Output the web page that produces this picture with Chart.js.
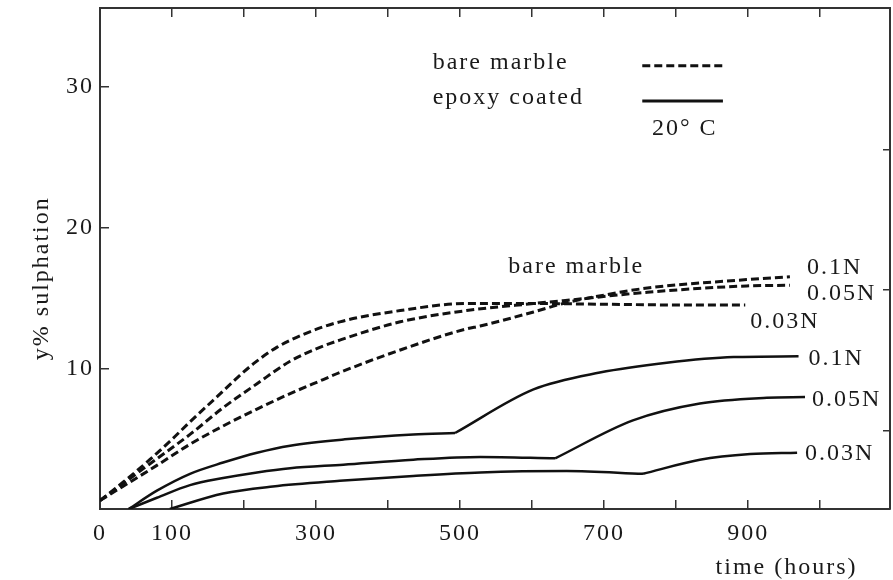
<!DOCTYPE html>
<html>
<head>
<meta charset="utf-8">
<script src="https://cdn.jsdelivr.net/npm/chart.js@4.4.0/dist/chart.umd.min.js"></script>
<style>
  html, body { margin: 0; padding: 0; background: #fff; }
</style>
</head>
<body>
<canvas id="sulphChart" width="893" height="580"></canvas>
<script>
// bare marble curves: [hours, y% sulphation]
const bare01 = [[0,0.6],[79,3.1],[125,4.6],[171,5.9],[218,7.1],[264,8.2],[310,9.2],[333,9.7],[417,11.3],[509,12.8],[528,13.0],[602,14.0],[643,14.6],[700,15.2],[760,15.7],[898,16.3],[958,16.5]];
const bare005 = [[0,0.6],[69,3.2],[125,5.3],[171,7.2],[218,8.9],[264,10.5],[301,11.4],[333,12.0],[417,13.3],[509,14.1],[602,14.6],[643,14.8],[760,15.4],[898,15.85],[958,15.9]];
const bare003 = [[0,0.6],[32,1.9],[69,3.5],[101,5.0],[125,6.2],[163,8.0],[190,9.3],[215,10.4],[246,11.5],[282,12.4],[333,13.3],[417,14.1],[509,14.6],[600,14.6],[700,14.55],[800,14.5],[896,14.5]];

// epoxy coated curves, split at the kink (before / after)
const epoxy01a = [[40,0],[79,1.3],[125,2.5],[171,3.3],[218,4.0],[264,4.5],[340,4.95],[435,5.3],[493,5.4]];
const epoxy01b = [[493,5.4],[602,8.5],[694,9.7],[787,10.4],[880,10.8],[970,10.85]];
const epoxy005a = [[40,0],[79,0.8],[125,1.7],[171,2.2],[218,2.6],[264,2.9],[338,3.15],[435,3.5],[528,3.7],[632,3.6]];
const epoxy005b = [[632,3.6],[740,6.3],[833,7.5],[926,7.9],[979,7.95]];
const epoxy003a = [[97,0],[171,1.1],[240,1.6],[333,2.0],[435,2.35],[528,2.6],[648,2.7],[754,2.5]];
const epoxy003b = [[754,2.5],[833,3.5],[903,3.9],[968,4.0]];

// ticks
const xTickValues = [0,100,200,300,400,500,600,700,800,900,1000];
const xTickLabels = [0,100,300,500,700,900];
const yTickValues = [10,20,30];
const yRightTicks = [5,15,25];

const serif = '"Liberation Serif", "Times New Roman", serif';
const ink = '#1a1a1a';
const DASH = [8, 4];
const SPACING = '2px';

// text next to curve ends (pixel offsets from last point)
const endLabels = [
    { data: bare01, text: '0.1N', dx: 17, dy: -9 },
    { data: bare005, text: '0.05N', dx: 17, dy: 8 },
    { data: bare003, text: '0.03N', dx: 5, dy: 17 },
    { data: epoxy01b, text: '0.1N', dx: 10, dy: 2 },
    { data: epoxy005b, text: '0.05N', dx: 7, dy: 3 },
    { data: epoxy003b, text: '0.03N', dx: 8, dy: 1 }
];

function line(data, dashed) {
    return {
        data: data,
        borderColor: '#111',
        borderWidth: dashed ? 3 : 2.5,
        borderDash: dashed ? DASH : [],
        pointRadius: 0,
        fill: false,
        cubicInterpolationMode: 'monotone'
    };
}

const annotate = {
    id: 'annotate',
    beforeDraw(chart) {
        chart.ctx.letterSpacing = SPACING;
    },
    afterDatasetsDraw(chart) {
        const ctx = chart.ctx;
        const x = chart.scales.x, y = chart.scales.y;
        ctx.save();
        ctx.letterSpacing = SPACING;
        ctx.font = '24px ' + serif;
        ctx.fillStyle = ink;
        ctx.textBaseline = 'middle';
        ctx.textAlign = 'left';

        endLabels.forEach(l => {
            const last = l.data[l.data.length - 1];
            ctx.fillText(l.text, x.getPixelForValue(last[0]) + l.dx, y.getPixelForValue(last[1]) + l.dy);
        });

        ctx.fillText('bare marble', x.getPixelForValue(567), y.getPixelForValue(17.2));

        // key
        ctx.fillText('bare marble', x.getPixelForValue(462), y.getPixelForValue(31.7));
        ctx.fillText('epoxy coated', x.getPixelForValue(462), y.getPixelForValue(29.2));
        ctx.textAlign = 'center';
        ctx.fillText('20\u00b0 C', x.getPixelForValue(812), y.getPixelForValue(27.0));

        ctx.strokeStyle = '#111';
        ctx.lineWidth = 3;
        ctx.setLineDash(DASH);
        ctx.beginPath();
        ctx.moveTo(x.getPixelForValue(753), y.getPixelForValue(31.5));
        ctx.lineTo(x.getPixelForValue(865), y.getPixelForValue(31.5));
        ctx.stroke();
        ctx.setLineDash([]);
        ctx.beginPath();
        ctx.moveTo(x.getPixelForValue(753), y.getPixelForValue(29.0));
        ctx.lineTo(x.getPixelForValue(865), y.getPixelForValue(29.0));
        ctx.stroke();

        // axis titles
        ctx.textAlign = 'right';
        ctx.fillText('time (hours)', x.getPixelForValue(1052), chart.height - 12);
        ctx.translate(chart.chartArea.left - 58, y.getPixelForValue(16.4));
        ctx.rotate(-Math.PI / 2);
        ctx.textAlign = 'center';
        ctx.fillText('y% sulphation', 0, 0);
        ctx.restore();
    }
};

function noPad(s) {
    s.paddingTop = 0; s.paddingBottom = 0; s.paddingLeft = 0; s.paddingRight = 0;
}

function frame(extra) {
    return Object.assign({
        border: { display: true, color: '#333', width: 2 },
        grid: { drawOnChartArea: false, drawTicks: true, tickLength: -9, color: '#333', lineWidth: 1.5 },
        ticks: { color: ink, font: { family: serif, size: 24 } }
    }, extra);
}

new Chart(document.getElementById('sulphChart'), {
    type: 'line',
    data: {
        datasets: [
            line(bare01, true), line(bare005, true), line(bare003, true),
            line(epoxy01a, false), line(epoxy01b, false),
            line(epoxy005a, false), line(epoxy005b, false),
            line(epoxy003a, false), line(epoxy003b, false)
        ]
    },
    options: {
        responsive: false,
        animation: false,
        events: [],
        layout: { padding: 0 },
        plugins: { legend: { display: false }, tooltip: { enabled: false } },
        scales: {
            x: frame({
                type: 'linear', position: 'bottom', min: 0, max: 1097,
                afterBuildTicks: s => { s.ticks = xTickValues.map(v => ({ value: v })); },
                afterFit: s => { s.height = 71; noPad(s); },
                ticks: { color: ink, font: { family: serif, size: 24 }, padding: 19, maxRotation: 0, autoSkip: false,
                         callback: v => xTickLabels.includes(v) ? String(v) : '' }
            }),
            x2: frame({
                type: 'linear', position: 'top', min: 0, max: 1097,
                afterBuildTicks: s => { s.ticks = xTickValues.map(v => ({ value: v })); },
                afterFit: s => { s.height = 8; noPad(s); },
                ticks: { callback: () => '' }
            }),
            y: frame({
                type: 'linear', position: 'left', min: 0, max: 35.6,
                afterBuildTicks: s => { s.ticks = yTickValues.map(v => ({ value: v })); },
                afterFit: s => { s.width = 100; noPad(s); },
                ticks: { color: ink, font: { family: serif, size: 24 }, padding: 15 }
            }),
            y2: frame({
                type: 'linear', position: 'right', min: -0.55, max: 35.05,
                afterBuildTicks: s => { s.ticks = yRightTicks.map(v => ({ value: v })); },
                afterFit: s => { s.width = 3; noPad(s); },
                grid: { drawOnChartArea: false, drawTicks: true, tickLength: -7, color: '#333', lineWidth: 1.5 },
                ticks: { callback: () => '' }
            })
        }
    },
    plugins: [annotate]
});
</script>
</body>
</html>
